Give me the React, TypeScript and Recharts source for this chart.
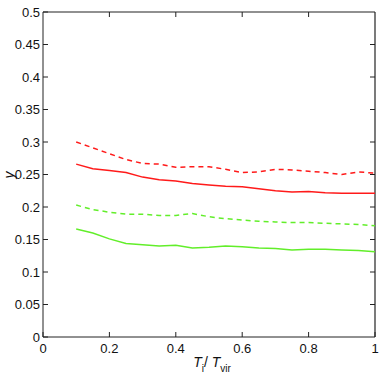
import { LineChart, Line, XAxis, YAxis, ReferenceLine } from 'recharts';

const tRatio = [0.1, 0.15, 0.2, 0.25, 0.3, 0.35, 0.4, 0.45, 0.5, 0.55, 0.6, 0.65, 0.7, 0.75, 0.8, 0.85, 0.9, 0.95, 1.0];
const redDashed = [0.300, 0.291, 0.282, 0.273, 0.267, 0.266, 0.261, 0.262, 0.262, 0.258, 0.253, 0.254, 0.258, 0.257, 0.255, 0.253, 0.250, 0.254, 0.252];
const redSolid = [0.266, 0.259, 0.256, 0.253, 0.246, 0.242, 0.240, 0.236, 0.234, 0.232, 0.231, 0.228, 0.225, 0.223, 0.224, 0.222, 0.221, 0.221, 0.221];
const greenDashed = [0.203, 0.196, 0.192, 0.189, 0.189, 0.187, 0.187, 0.190, 0.185, 0.182, 0.180, 0.178, 0.177, 0.176, 0.176, 0.175, 0.174, 0.173, 0.171];
const greenSolid = [0.166, 0.160, 0.151, 0.144, 0.142, 0.140, 0.141, 0.137, 0.138, 0.140, 0.139, 0.137, 0.136, 0.134, 0.135, 0.135, 0.134, 0.133, 0.131];

const xTicks = [0, 0.2, 0.4, 0.6, 0.8, 1];
const yTicks = [0, 0.05, 0.1, 0.15, 0.2, 0.25, 0.3, 0.35, 0.4, 0.45, 0.5];

const data = tRatio.map((t, i) => ({
  t,
  rd: redDashed[i],
  rs: redSolid[i],
  gd: greenDashed[i],
  gs: greenSolid[i],
}));

const RED = '#ff1a1a';
const GREEN = '#62ee2a';
const AXIS = '#222';
const FONT = '"Liberation Sans Narrow", "Liberation Sans", Arial, sans-serif';
const tickStyle = { fontSize: 13, fill: '#111', fontFamily: FONT };

// inward tick length on the top / right frame, in data units (~5px)
const TOP_TICK = 0.5 * 5 / 325;
const RIGHT_TICK = 5 / 332;

function XLabel({ viewBox }: any) {
  const cx = viewBox.x + viewBox.width / 2 + 3;
  return (
    <text x={cx} y={367} textAnchor="middle" fontFamily={FONT} fontSize={14} fill="#111">
      <tspan fontStyle="italic">T</tspan>
      <tspan dy={5} fontSize={10}>i</tspan>
      <tspan dy={-5}>/ </tspan>
      <tspan fontStyle="italic">T</tspan>
      <tspan dy={5} fontSize={10}>vir</tspan>
    </text>
  );
}

function YLabel() {
  return (
    <text x={14} y={175} transform="rotate(-90 14 175)" textAnchor="middle" fontFamily={FONT} fontSize={14} fontStyle="italic" fill="#111">
      y
    </text>
  );
}

export default function App() {
  return (
    <div style={{ position: 'absolute', left: 0, top: 0, width: 382, height: 382, background: '#fff' }}>
      <LineChart width={382} height={382} data={data} margin={{ top: 12, right: 7, bottom: 0, left: 0 }}>
        <XAxis
          dataKey="t"
          type="number"
          domain={[0, 1]}
          ticks={xTicks}
          height={45}
          stroke={AXIS}
          tickSize={-5}
          tickMargin={12}
          tick={tickStyle}
          label={<XLabel />}
        />
        <YAxis
          type="number"
          domain={[0, 0.5]}
          ticks={yTicks}
          width={43}
          stroke={AXIS}
          tickSize={-5}
          tickMargin={8}
          tick={tickStyle}
          label={<YLabel />}
        />
        <ReferenceLine y={0.5} stroke={AXIS} strokeWidth={1.2} ifOverflow="visible" />
        <ReferenceLine x={1} stroke={AXIS} strokeWidth={1.2} ifOverflow="visible" />
        {xTicks.slice(1, -1).map((t) => (
          <ReferenceLine key={'tx' + t} ifOverflow="visible" segment={[{ x: t, y: 0.5 }, { x: t, y: 0.5 - TOP_TICK }]} stroke={AXIS} />
        ))}
        {yTicks.slice(1, -1).map((v) => (
          <ReferenceLine key={'ry' + v} ifOverflow="visible" segment={[{ x: 1, y: v }, { x: 1 - RIGHT_TICK, y: v }]} stroke={AXIS} />
        ))}
        <Line dataKey="rd" stroke={RED} strokeWidth={1.5} strokeDasharray="5 4" dot={false} isAnimationActive={false} />
        <Line dataKey="rs" stroke={RED} strokeWidth={1.5} dot={false} isAnimationActive={false} />
        <Line dataKey="gd" stroke={GREEN} strokeWidth={1.5} strokeDasharray="5 4" dot={false} isAnimationActive={false} />
        <Line dataKey="gs" stroke={GREEN} strokeWidth={1.5} dot={false} isAnimationActive={false} />
      </LineChart>
    </div>
  );
}
